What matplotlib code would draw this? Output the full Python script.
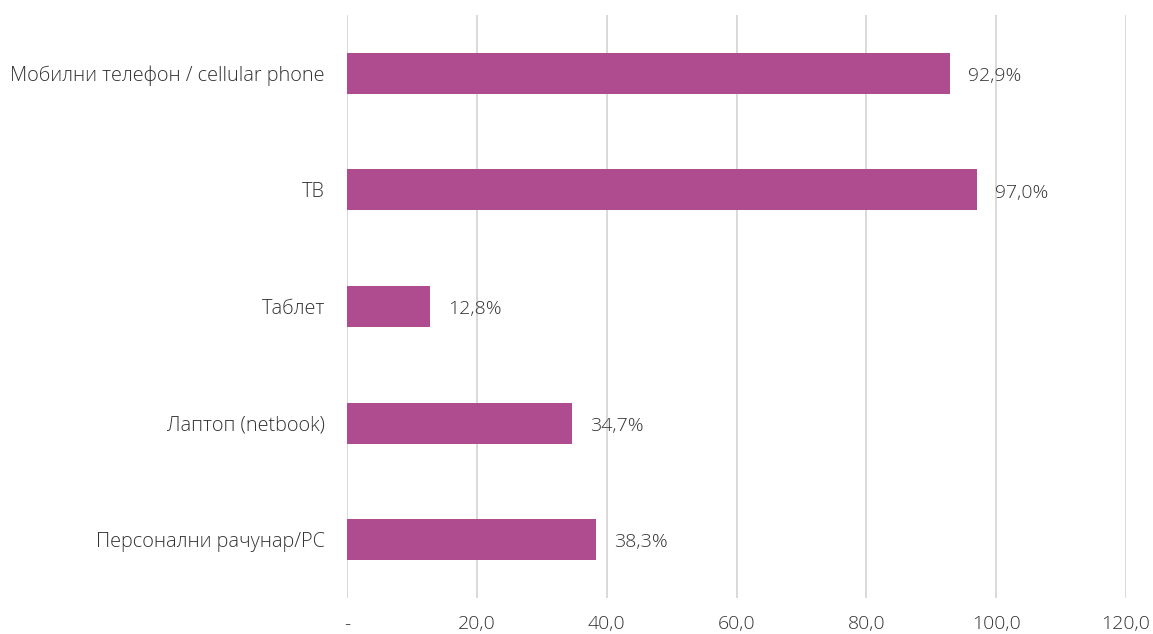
import matplotlib
matplotlib.use("Agg")
import matplotlib.pyplot as plt

categories = ["Мобилни телефон / cellular phone", "ТВ", "Таблет",
              "Лаптоп (netbook)", "Персонални рачунар/PC"]
values = [92.9, 97.0, 12.8, 34.7, 38.3]
value_labels = ["92,9%", "97,0%", "12,8%", "34,7%", "38,3%"]
xticks = [0, 20, 40, 60, 80, 100, 120]
xtick_labels = ["-", "20,0", "40,0", "60,0", "80,0", "100,0", "120,0"]

plt.rcParams['font.family'] = ['Open Sans', 'DejaVu Sans']
plt.rcParams['font.weight'] = 'light'
text_color = "#333333"
bar_color = "#AE4C8F"

fig = plt.figure(figsize=(11.53, 6.34), dpi=100)
ax = fig.add_axes([347/1153, 1-598/634, (1126-347)/1153, (598-15)/634])

ypos = list(range(len(categories)))
ax.barh(ypos, values, height=0.35, color=bar_color, zorder=3)
for y, v, lab in zip(ypos, values, value_labels):
    ax.annotate(lab, (v, y), xytext=(13, -2), textcoords="offset points",
                va="center", ha="left", fontsize=14, color=text_color,
                fontweight='light')

ax.set_xlim(0, 120)
ax.set_ylim(len(categories) - 0.5, -0.5)
ax.set_yticks(ypos)
ax.set_yticklabels(categories, fontweight='light')
ax.set_xticks(xticks)
ax.set_xticklabels(xtick_labels, fontweight='light')
ax.tick_params(axis='both', length=0, labelsize=14.3, colors=text_color)
ax.tick_params(axis='x', labelsize=14)
ax.tick_params(axis='y', pad=16)
ax.tick_params(axis='x', pad=12)
ax.grid(axis='x', color="#D9D9D9", linewidth=1.4, zorder=0)
for s in ax.spines.values():
    s.set_visible(False)

fig.savefig("out.png", dpi=100)
